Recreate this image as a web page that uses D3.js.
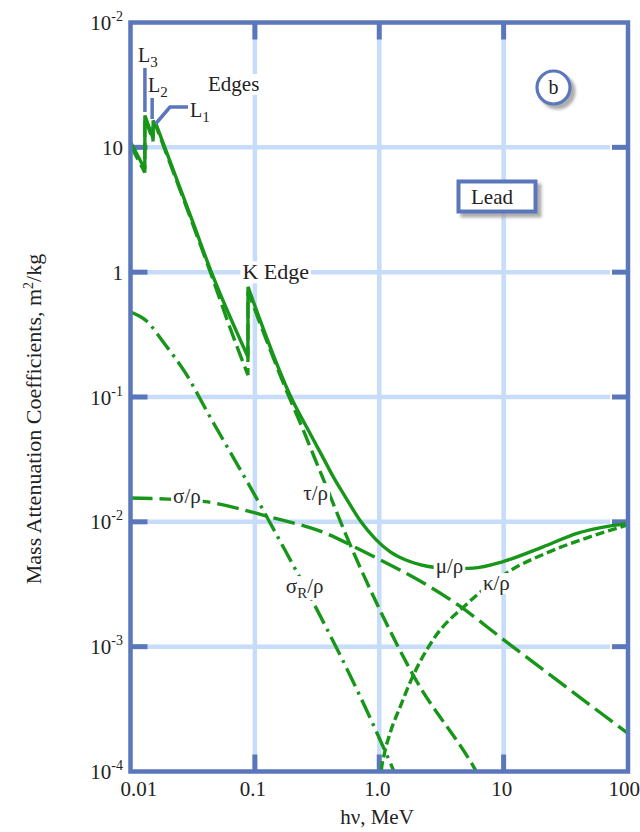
<!DOCTYPE html>
<html><head><meta charset="utf-8">
<script src="https://cdn.jsdelivr.net/npm/d3@7"></script>
<style>
html,body{margin:0;padding:0;background:#fff;}
svg{display:block;font-family:"Liberation Serif","DejaVu Serif",serif;}
</style></head>
<body><svg id="c" width="640" height="832"></svg>
<script>
// ---------------- data (MeV, m^2/kg) ----------------
const muE = [0.01, 0.01303, 0.01306, 0.01518, 0.01521, 0.01585, 0.01588, 0.0313, 0.0447, 0.0879, 0.0881, 0.2001, 0.2792, 0.3684, 0.4272, 0.5333, 0.7036, 0.9288, 1.226, 1.618, 2.429, 3.718, 5.689, 9.908, 20.77, 38.94, 100];
const muV = [11.0, 6.7, 18.0, 11.8, 16.4, 15.0, 15.8, 2.61, 1.0, 0.21, 0.762, 0.0946, 0.0506, 0.0302, 0.0229, 0.01585, 0.0102, 0.00731, 0.00575, 0.00497, 0.00441, 0.00421, 0.00426, 0.00481, 0.00631, 0.00809, 0.00973];

const tauE = [0.01, 0.01303, 0.01306, 0.01518, 0.01521, 0.01585, 0.01588, 0.0313, 0.0447, 0.0612, 0.0879, 0.0881, 0.199, 0.232, 0.2966, 0.357, 0.566, 1.019, 1.884, 5.9, 8.0];
const tauV = [10.4, 6.3, 17.4, 11.2, 15.8, 14.4, 15.2, 2.5, 0.95, 0.39, 0.15, 0.70, 0.088, 0.0619, 0.034, 0.0217, 0.00704, 0.00194, 0.000586, 0.000104, 0.00006];

const sigE = [0.01, 0.02, 0.04, 0.129, 0.368, 0.703, 4.48, 9.96, 100];
const sigV = [0.0155, 0.0152, 0.0145, 0.0110, 0.00813, 0.00597, 0.0021, 0.00114, 0.000202];

const sigRE = [0.01, 0.0132, 0.0191, 0.02766, 0.0423, 0.058, 0.0955, 0.1284, 0.1758, 0.2951, 0.3549, 0.7036, 1.057, 1.272, 1.475];
const sigRV = [0.479, 0.413, 0.261, 0.156, 0.0731, 0.0421, 0.0177, 0.0104, 0.00586, 0.00225, 0.00158, 0.000398, 0.000164, 0.000108, 0.000076];

const kapE = [1.02, 1.038, 1.097, 1.226, 1.475, 1.841, 2.715, 5.09, 11.28, 22.36, 46.85, 100];
const kapV = [0.00005, 0.0001, 0.000137, 0.000205, 0.000331, 0.000565, 0.00114, 0.00221, 0.00406, 0.00565, 0.00745, 0.00946];

const xTickVals = [0.01, 0.1, 1, 10, 100];
const xTickLabels = ["0.01", "0.1", "1.0", "10", "100"];
const yTickVals = [100, 10, 1, 0.1, 0.01, 0.001, 0.0001];
const yTickBase = ["10", "10", "1", "10", "10", "10", "10"];
const yTickSup = ["-2", "", "", "-1", "-2", "-3", "-4"];

const lEdgeE = [0.01306, 0.01521, 0.01588];

// curve labels: [symbol, subscript, rest, E, value(baseline)]
const curveLabels = [
  ["σ", "", "/ρ", 0.0284, 0.01412],
  ["τ", "", "/ρ", 0.308, 0.01491],
  ["σ", "R", "/ρ", 0.2515, 0.002686],
  ["μ", "", "/ρ", 3.67, 0.003885],
  ["κ", "", "/ρ", 8.74, 0.00284]
];

// ---------------- drawing ----------------
const svg = d3.select("#c");
const FRAME = "#5a77bb", GRID = "#c6dcf8", GREEN = "#17961a";
const x = d3.scaleLog().domain([0.01, 100]).range([130.5, 628]);
const y = d3.scaleLog().domain([1e-4, 1e2]).range([771.5, 22.5]);
const [x0, x1] = x.range(), [y0, y1] = y.range();

const defs = svg.append("defs");
defs.append("clipPath").attr("id", "plot").append("rect")
  .attr("x", x0).attr("y", y1).attr("width", x1 - x0).attr("height", y0 - y1);
const f = defs.append("filter").attr("id", "sh").attr("x", "-30%").attr("y", "-30%").attr("width", "160%").attr("height", "160%");
f.append("feDropShadow").attr("dx", 4).attr("dy", 4).attr("stdDeviation", 1.5).attr("flood-color", "#999").attr("flood-opacity", 0.8);

// gridlines
const gx = xTickVals.slice(1, -1), gy = yTickVals.slice(1, -1);
svg.append("g").selectAll("line").data(gx).join("line")
  .attr("x1", d => x(d)).attr("x2", d => x(d)).attr("y1", y1).attr("y2", y0)
  .attr("stroke", GRID).attr("stroke-width", 4.5);
svg.append("g").selectAll("line").data(gy).join("line")
  .attr("x1", x0).attr("x2", x1 - 18).attr("y1", d => y(d)).attr("y2", d => y(d))
  .attr("stroke", GRID).attr("stroke-width", 4.5);

// ticks (dark, inward)
const tk = svg.append("g").attr("stroke", FRAME).attr("stroke-width", 5);
gx.forEach(v => {
  tk.append("line").attr("x1", x(v)).attr("x2", x(v)).attr("y1", y0).attr("y2", y0 - 17);
  tk.append("line").attr("x1", x(v)).attr("x2", x(v)).attr("y1", y1).attr("y2", y1 + 17);
});
gy.forEach(v => {
  tk.append("line").attr("x1", x0).attr("x2", x0 + 17).attr("y1", y(v)).attr("y2", y(v));
  tk.append("line").attr("x1", x1).attr("x2", x1 - 16).attr("y1", y(v)).attr("y2", y(v));
});

// curves: smooth pieces joined by straight jumps at absorption edges
const line = d3.line().x(d => x(d[0])).y(d => y(d[1])).curve(d3.curveMonotoneX);
const zip = (a, b) => a.map((e, i) => [e, b[i]]);
function edgePath(E, V) {
  const pts = zip(E, V), segs = [[pts[0]]];
  for (let i = 1; i < pts.length; i++) {
    if (pts[i][0] / pts[i - 1][0] < 1.005) segs.push([pts[i]]);
    else segs[segs.length - 1].push(pts[i]);
  }
  return segs.map((s, i) => {
    const d = s.length > 1 ? line(s) : `M${x(s[0][0])},${y(s[0][1])}`;
    return i === 0 ? d : "L" + d.slice(1);
  }).join("");
}
const curves = svg.append("g").attr("clip-path", "url(#plot)").attr("fill", "none")
  .attr("stroke", GREEN).attr("stroke-width", 3.4).attr("stroke-linejoin", "miter");
curves.append("path").attr("d", line(zip(sigRE, sigRV))).attr("stroke-dasharray", "20,6,3,6");
curves.append("path").attr("d", line(zip(sigE, sigV))).attr("stroke-dasharray", "22,7");
curves.append("path").attr("d", line(zip(kapE, kapV))).attr("stroke-dasharray", "9,4");
curves.append("path").attr("d", edgePath(tauE, tauV)).attr("stroke-dasharray", "16,6");
curves.append("path").attr("d", edgePath(muE, muV));

// frame
svg.append("rect").attr("x", x0).attr("y", y1).attr("width", x1 - x0).attr("height", y0 - y1)
  .attr("fill", "none").attr("stroke", FRAME).attr("stroke-width", 4.5);

// helper: text with white box
function boxed(g, build) {
  const t = build(g);
  const bb = t.node().getBBox();
  g.insert("rect", "text").attr("x", bb.x - 2).attr("y", bb.y + 2).attr("width", bb.width + 4)
    .attr("height", bb.height - 3).attr("fill", "#fff");
  return t;
}

// curve labels
curveLabels.forEach(([a, sub, rest, E, v]) => {
  const g = svg.append("g");
  boxed(g, gg => {
    const t = gg.append("text").attr("x", x(E)).attr("y", y(v)).attr("text-anchor", "middle")
      .attr("font-size", 21).attr("fill", "#2a2a2a");
    t.append("tspan").text(a);
    if (sub) {
      t.append("tspan").attr("font-size", 15).attr("dy", 5).text(sub);
      t.append("tspan").attr("dy", -5).text(rest);
    } else t.append("tspan").text(rest);
    return t;
  });
});

// K Edge label
{
  const g = svg.append("g");
  boxed(g, gg => gg.append("text").attr("x", x(0.147)).attr("y", y(0.877)).attr("text-anchor", "middle")
    .attr("font-size", 22).attr("fill", "#222").text("K Edge"));
}

// Edges label
{
  const g = svg.append("g");
  boxed(g, gg => gg.append("text").attr("x", 208).attr("y", 91).attr("font-size", 21).attr("fill", "#222").text("Edges"));
}

// L edge markers
const mk = svg.append("g").attr("stroke", FRAME).attr("stroke-width", 3.5).attr("fill", "none");
mk.append("line").attr("x1", x(lEdgeE[0])).attr("x2", x(lEdgeE[0])).attr("y1", 68).attr("y2", 112);
mk.append("line").attr("x1", x(lEdgeE[1]) - 1).attr("x2", x(lEdgeE[1]) - 1).attr("y1", 98).attr("y2", 119);
mk.append("polyline").attr("points", `${x(lEdgeE[2])},124 170,107 188,107`);

function lLabel(xx, yy, s) {
  const t = svg.append("text").attr("x", xx).attr("y", yy).attr("font-size", 20).attr("fill", "#222");
  t.append("tspan").text("L");
  t.append("tspan").attr("font-size", 15).attr("dy", 5).text(s);
}
lLabel(138, 62, "3");
lLabel(148, 92, "2");
lLabel(190, 117, "1");

// "b" circle
svg.append("circle").attr("cx", 553.5).attr("cy", 87.5).attr("r", 16.5).attr("fill", "#fff")
  .attr("stroke", FRAME).attr("stroke-width", 3.2).attr("filter", "url(#sh)");
svg.append("text").attr("x", 553.5).attr("y", 94).attr("text-anchor", "middle").attr("font-size", 20)
  .attr("fill", "#222").text("b");

// Lead box
svg.append("rect").attr("x", 458.5).attr("y", 181.5).attr("width", 77).attr("height", 30)
  .attr("fill", "#fff").attr("stroke", FRAME).attr("stroke-width", 4).attr("filter", "url(#sh)");
svg.append("text").attr("x", 492).attr("y", 204).attr("text-anchor", "middle").attr("font-size", 21)
  .attr("fill", "#222").text("Lead");

// y tick labels
yTickVals.forEach((v, i) => {
  const t = svg.append("text").attr("x", 123).attr("y", y(v) + 7.5).attr("text-anchor", "end")
    .attr("font-size", 21).attr("fill", "#222");
  t.append("tspan").text(yTickBase[i]);
  if (yTickSup[i]) t.append("tspan").attr("font-size", 14).attr("dy", -9).text(yTickSup[i]);
});
// x tick labels
xTickVals.forEach((v, i) => {
  let anchor = "middle", dx = -2;
  if (i === 0) { anchor = "start"; dx = -10; }
  if (i === xTickVals.length - 1) { anchor = "end"; dx = 12; }
  svg.append("text").attr("x", x(v) + dx).attr("y", 796).attr("text-anchor", anchor)
    .attr("font-size", 21).attr("fill", "#222").text(xTickLabels[i]);
});

// axis titles
svg.append("text").attr("x", 377).attr("y", 824).attr("text-anchor", "middle").attr("font-size", 21)
  .attr("fill", "#222").text("hν, MeV");
const yt = svg.append("text").attr("transform", "translate(41,419) rotate(-90)").attr("text-anchor", "middle")
  .attr("font-size", 22).attr("fill", "#222");
yt.append("tspan").text("Mass Attenuation Coefficients, m");
yt.append("tspan").attr("font-size", 14).attr("dy", -8).text("2");
yt.append("tspan").attr("dy", 8).text("/kg");
</script></body></html>
